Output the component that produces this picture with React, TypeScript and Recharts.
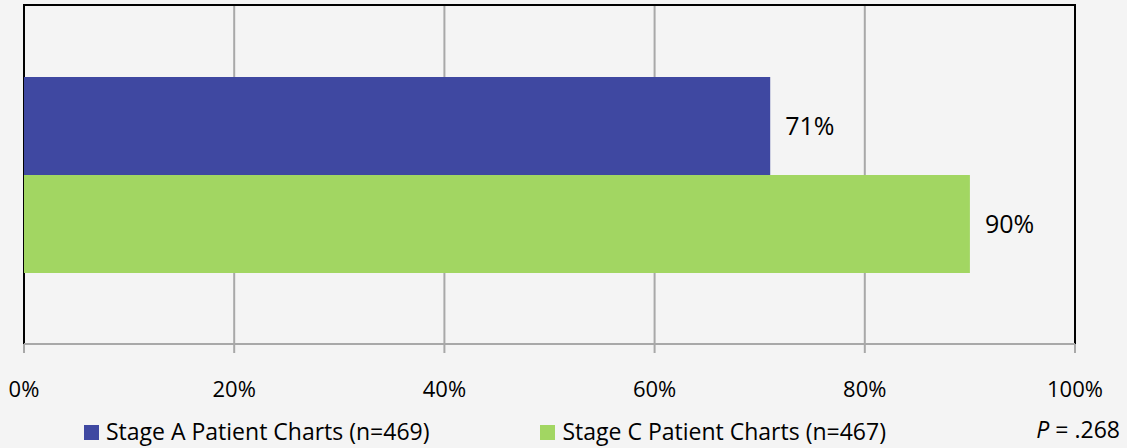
import { BarChart, Bar, XAxis, YAxis, CartesianGrid, LabelList, ReferenceArea } from "recharts";

const categories = ["Charts"];
const stageA = [71];
const stageC = [90];
const xTicks = [0, 20, 40, 60, 80, 100];

const seriesNames = ["Stage A Patient Charts (n=469)", "Stage C Patient Charts (n=467)"];
const seriesColors = ["#3f48a1", "#a2d662"];
const pValue = ".268";

const data = categories.map((name, i) => ({ name, stageA: stageA[i], stageC: stageC[i] }));

const FONT = "'Open Sans', 'Noto Sans', sans-serif";

const pct = (v: number) => `${Math.round(v)}%`;

const ChartLegend = () => (
  <div
    style={{
      position: "absolute",
      left: 84,
      top: 416,
      display: "flex",
      gap: 111,
      fontSize: 23,
      lineHeight: "30px",
      color: "#000",
    }}
  >
    {seriesNames.map((n, i) => (
      <div key={n} style={{ display: "flex", alignItems: "center" }}>
        <span
          style={{
            width: 15,
            height: 15,
            background: seriesColors[i],
            marginRight: 7,
            marginTop: 3,
            display: "inline-block",
          }}
        />
        <span>{n}</span>
      </div>
    ))}
  </div>
);

export default function App() {
  return (
    <div
      style={{
        position: "fixed",
        left: 0,
        top: 0,
        width: 1127,
        height: 448,
        background: "#f4f4f4",
        fontFamily: FONT,
      }}
    >
      <BarChart
        width={1127}
        height={448}
        data={data}
        layout="vertical"
        margin={{ top: 5, right: 52, bottom: 44, left: 24 }}
        barGap={0}
        barSize={98}
        style={{ fontFamily: FONT }}
      >
        <CartesianGrid horizontal={false} stroke="#a8a8a8" strokeWidth={2} />
        {/* plot frame: black on top, left and right */}
        <ReferenceArea x1={0} x2={100} fill="none" stroke="#000" strokeWidth={2} />
        <XAxis
          type="number"
          domain={[0, 100]}
          ticks={xTicks}
          tickFormatter={pct}
          height={60}
          axisLine={{ stroke: "#a8a8a8", strokeWidth: 2 }}
          tickLine={{ stroke: "#a8a8a8", strokeWidth: 2 }}
          tickSize={9}
          tickMargin={28}
          tick={{ fontSize: 22, fill: "#000" }}
        />
        <YAxis
          type="category"
          dataKey="name"
          width={0}
          tick={false}
          tickLine={false}
          axisLine={{ stroke: "#000", strokeWidth: 2 }}
        />
        <Bar dataKey="stageA" name={seriesNames[0]} fill={seriesColors[0]} isAnimationActive={false}>
          <LabelList dataKey="stageA" position="right" offset={15} formatter={pct} style={{ fontSize: 25, fill: "#000" }} />
        </Bar>
        <Bar dataKey="stageC" name={seriesNames[1]} fill={seriesColors[1]} isAnimationActive={false}>
          <LabelList dataKey="stageC" position="right" offset={15} formatter={pct} style={{ fontSize: 25, fill: "#000" }} />
        </Bar>
      </BarChart>
      <ChartLegend />
      <div
        style={{
          position: "absolute",
          right: 7,
          top: 414,
          fontSize: 23,
          lineHeight: "30px",
          color: "#000",
          whiteSpace: "pre",
        }}
      >
        <i>P</i> = {pValue}
      </div>
    </div>
  );
}
